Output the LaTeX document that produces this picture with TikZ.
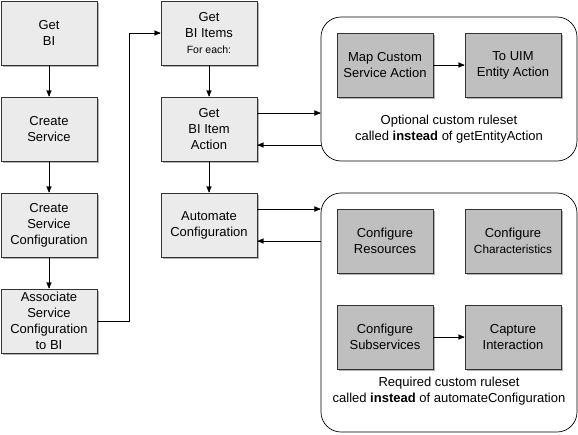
\documentclass[tikz,border=0pt]{standalone}
\usepackage{fontspec}
\setmainfont{Liberation Sans}
\usetikzlibrary{shadows, arrows}

\tikzset{
  stepbox/.style={draw=black!80, line width=0.9pt, fill=black!8,
    minimum width=96pt, minimum height=64pt, inner sep=1pt, align=center,
    font=\fontsize{13}{16}\selectfont,
    drop shadow={shadow xshift=2pt, shadow yshift=-2pt, fill=black!30, opacity=1}},
  rulebox/.style={stepbox, fill=black!25},
  groupbox/.style={draw, line width=0.7pt, rounded corners=20pt, minimum width=256pt},
  grouptext/.style={align=center, font=\fontsize{13}{16}\selectfont}
}

\begin{document}
\begin{tikzpicture}[x=1pt,y=-1pt,>=triangle 45]
    \useasboundingbox (0,0) rectangle (578,434);
    % groups of custom rulesets
    \node[groupbox, minimum height=144pt] (optional) at (449,89) {};
    \node[groupbox, minimum height=239pt] (required) at (449,312.5) {};
    \node[grouptext] (optlabel) at (449,129.5) {Optional custom ruleset\\called \textbf{instead} of getEntityAction};
    \node[grouptext] (reqlabel) at (449,391.5) {Required custom ruleset\\called \textbf{instead} of automateConfiguration};
    %
    \node[stepbox] (getbi) at (49,33) {Get\\BI};
    \node[stepbox] (createsvc) at (49,129) {Create\\Service};
    \node[stepbox] (createcfg) at (49,225) {Create\\Service\\Configuration};
    \node[stepbox] (assoc) at (49,321) {Associate\\Service\\Configuration\\to BI};
    \node[stepbox] (getitems) at (209,33) {Get\\BI Items\\{\fontsize{10.5}{14}\selectfont For each:}};
    \node[stepbox] (itemaction) at (209,129) {Get\\BI Item\\Action};
    \node[stepbox] (autocfg) at (209,225) {Automate\\Configuration};
    %
    \node[rulebox] (mapaction) at (385,65) {Map Custom\\Service Action};
    \node[rulebox] (uimaction) at (513,65) {To UIM\\Entity Action};
    \node[rulebox] (cfgres) at (385,241) {Configure\\Resources};
    \node[rulebox] (cfgchar) at (513,241) {Configure\\{\fontsize{11.8}{16}\selectfont Characteristics}};
    \node[rulebox] (cfgsub) at (385,337) {Configure\\Subservices};
    \node[rulebox] (capture) at (513,337) {Capture\\Interaction};
    %
    \draw[->] (getbi) -- (createsvc);
    \draw[->] (createsvc) -- (createcfg);
    \draw[->] (createcfg) -- (assoc);
    \draw[->] (assoc.east) -- ++(32,0) |- (getitems.west);
    \draw[->] (getitems) -- (itemaction);
    \draw[->] (itemaction) -- (autocfg);
    \draw[->] (mapaction) -- (uimaction);
    \draw[->] (cfgsub) -- (capture);
    %
    \draw[->] ([yshift=16pt]itemaction.east) -- ([yshift=16pt]itemaction.east -| optional.west);
    \draw[<-] ([yshift=-16pt]itemaction.east) -- ([yshift=-16pt]itemaction.east -| optional.west);
    \draw[->] ([yshift=16pt]autocfg.east) -- ([yshift=16pt]autocfg.east -| required.west);
    \draw[<-] ([yshift=-16pt]autocfg.east) -- ([yshift=-16pt]autocfg.east -| required.west);
\end{tikzpicture}
\end{document}
